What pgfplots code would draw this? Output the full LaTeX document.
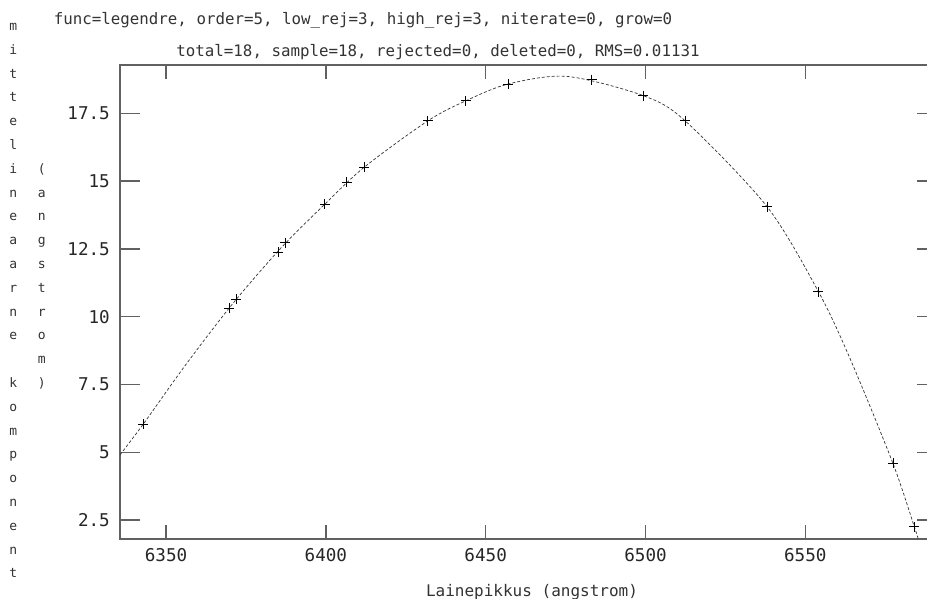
\documentclass[border=0pt]{standalone}
\usepackage{pgfplots}
\pgfplotsset{compat=1.18}
\usepackage{fontspec}
\setmainfont{DejaVu Sans Mono}
\definecolor{frame}{gray}{0.38}
\definecolor{txt}{gray}{0.2}
\begin{document}
\begin{tikzpicture}
\useasboundingbox (0,0) rectangle (927bp,599bp);
% x ticks (shorter) in an overlaid axis
\begin{axis}[
  at={(120bp,60bp)}, anchor=south west, scale only axis,
  width=816.7bp, height=474bp,
  xmin=6335.6, xmax=6591.1, ymin=1.80, ymax=19.28,
  axis line style={draw=none},
  xtick={6350,6400,6450,6500,6550}, ytick=\empty,
  tick align=inside, major tick length=14bp,
  tick style={draw=frame, line width=1.4bp},
  xticklabel style={font=\fontsize{17.6bp}{20bp}\selectfont, text=black!85, inner sep=0pt, anchor=north, yshift=-9.5bp},
  /pgf/number format/assume math mode=true,
  /pgf/number format/set thousands separator={},
  xtick pos=both,
]
\addplot[draw=none] coordinates {(6400,10)};
\end{axis}
\begin{axis}[
  at={(120bp,60bp)}, anchor=south west, scale only axis,
  width=816.7bp, height=474bp,
  xmin=6335.6, xmax=6591.1, ymin=1.80, ymax=19.28,
  axis line style={draw=frame, line width=1.6bp},
  xtick=\empty, ytick={2.5,5,7.5,10,12.5,15,17.5},
  ytick pos=both,
  tick align=inside, major tick length=20bp,
  tick style={draw=frame, line width=1.4bp},
  yticklabel style={font=\fontsize{17.6bp}{20bp}\selectfont, text=black!85, inner sep=0pt, anchor=east, xshift=-10bp},
  /pgf/number format/assume math mode=true,
  clip=true,
]
% fitted curve
\addplot[smooth, black!80, line width=0.7bp, dash pattern=on 3bp off 2bp] coordinates {
(6335.6,4.90) (6342.9,6.04) (6356.0,8.20) (6370.8,10.47) (6386.1,12.55)
(6399.7,14.15) (6412.0,15.51) (6431.9,17.22) (6443.8,17.96) (6457.1,18.58)
(6475.4,18.86) (6499.3,18.15) (6512.4,17.22)
(6538.0,14.06) (6554.1,10.92) (6564.0,8.45) (6577.4,4.59) (6584.1,2.25) (6585.6,1.70)
};
% data points
\addplot[only marks, mark=+, mark size=5bp, mark options={black, line width=0.8bp}] coordinates {
(6342.9,6.04) (6369.7,10.31) (6371.9,10.64) (6385.1,12.38) (6387.2,12.73)
(6399.7,14.15) (6406.5,14.96) (6412.0,15.51) (6431.9,17.22) (6443.8,17.96)
(6457.1,18.58) (6483.2,18.74) (6499.3,18.15) (6512.4,17.22) (6538.0,14.06)
(6554.1,10.92) (6577.4,4.59) (6584.1,2.25)
};
\end{axis}
% titles
\node[text=txt, font=\fontsize{15.8bp}{18bp}\selectfont, inner sep=0pt] at (363bp,579bp) {func=legendre, order=5, low\_rej=3, high\_rej=3, niterate=0, grow=0};
\node[text=txt, font=\fontsize{15.8bp}{18bp}\selectfont, inner sep=0pt] at (438bp,547bp) {total=18, sample=18, rejected=0, deleted=0, RMS=0.01131};
% x label
\node[text=txt, font=\fontsize{16bp}{18bp}\selectfont, inner sep=0pt] at (532bp,7bp) {Lainepikkus (angstrom)};
% vertical y label, column 1
\foreach \ch [count=\i from 0] in {m,i,t,t,e,l,i,n,e,a,a,r,n,e,{},k,o,m,p,o,n,e,n,t}{
  \node[text=txt, font=\fontsize{13bp}{15bp}\selectfont, inner sep=0pt, anchor=base] at (13.3bp,{568.5bp-23.8bp*\i}) {\ch};
}
% column 2
\foreach \ch [count=\i from 6] in {{(},a,n,g,s,t,r,o,m,{)}}{
  \node[text=txt, font=\fontsize{13bp}{15bp}\selectfont, inner sep=0pt, anchor=base] at (41.7bp,{568.5bp-23.8bp*\i}) {\ch};
}
\end{tikzpicture}
\end{document}
